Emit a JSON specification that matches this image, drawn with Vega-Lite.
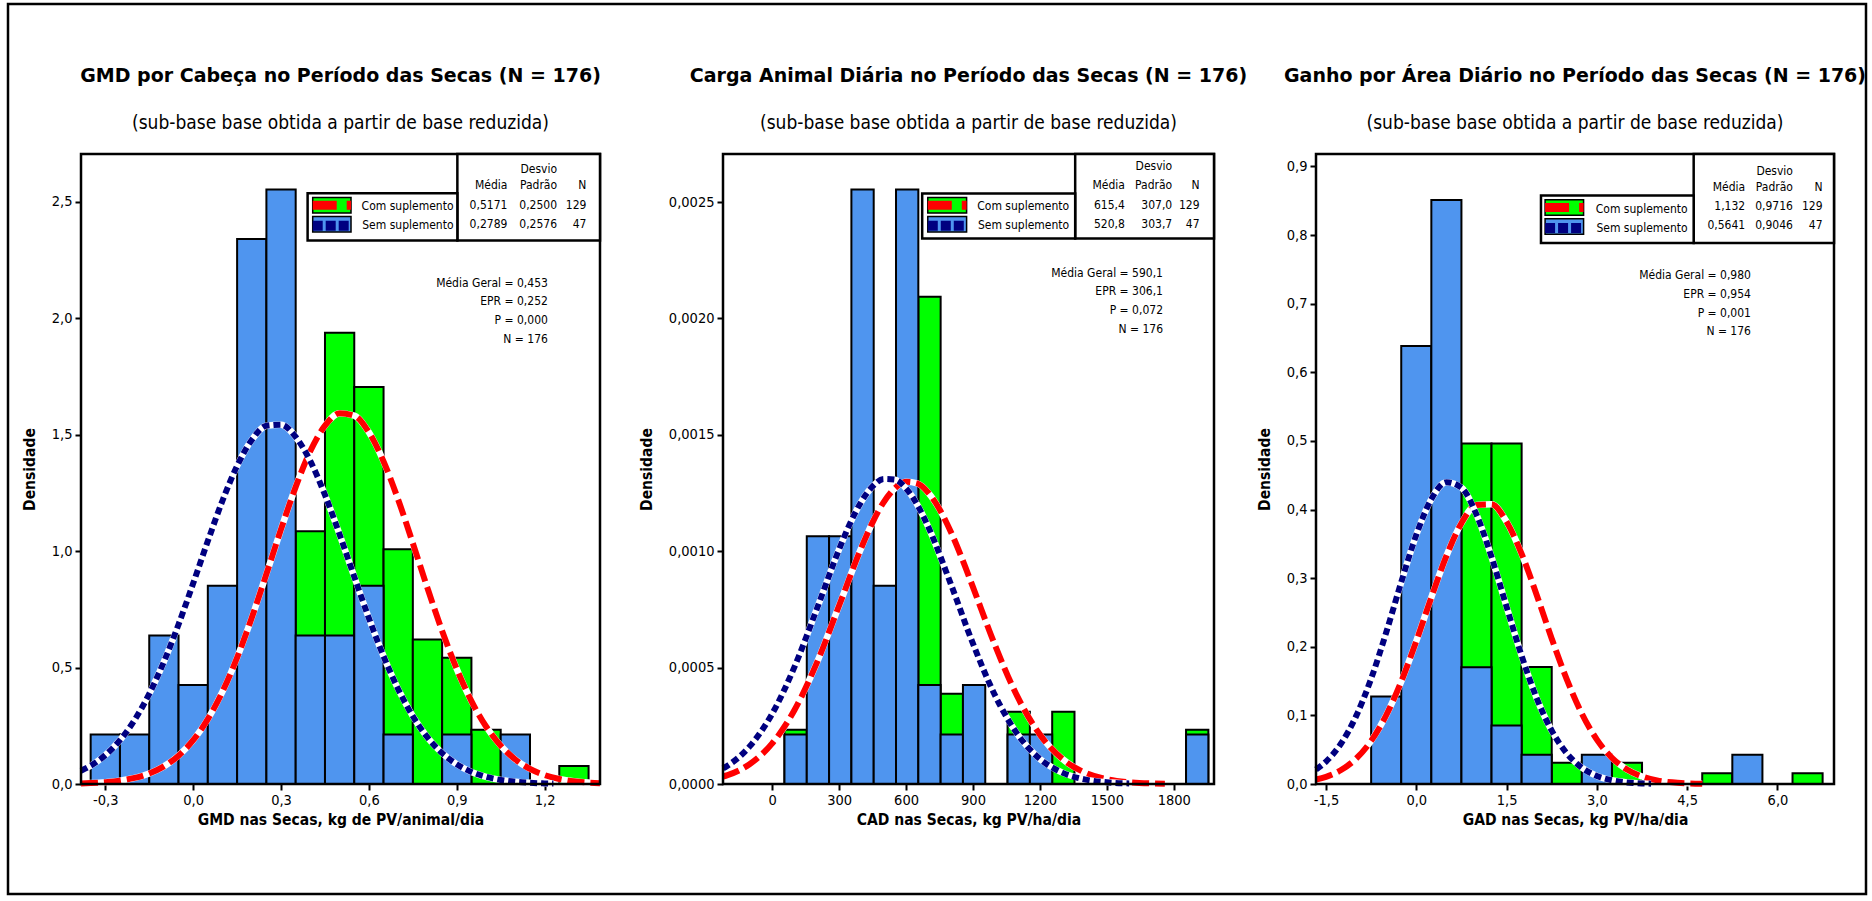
{
  "$schema": "https://vega.github.io/schema/vega-lite/v6.json",
  "width": 1858,
  "height": 890,
  "autosize": {"type": "none"},
  "padding": {"left": 8, "top": 4, "right": 6, "bottom": 7},
  "background": "white",
  "config": {
    "view": {"stroke": "black", "strokeWidth": 2.5},
    "font": "DejaVu Sans Condensed",
    "axis": {
      "labelFont": "DejaVu Sans Condensed", "labelFontSize": 14.5, "labelColor": "black",
      "titleFont": "DejaVu Sans Condensed", "titleFontSize": 15.5, "titleFontWeight": "bold", "titleColor": "black",
      "tickColor": "black", "tickSize": 6, "tickWidth": 2, "domain": false, "grid": false,
      "labelPadding": 3, "labelFlush": false, "labelOverlap": false
    },
    "axisX": {"titlePadding": 6},
    "axisY": {"titlePadding": 14},
    "text": {"font": "DejaVu Sans Condensed", "fontSize": 12, "color": "black"}
  },
  "datasets": {
    "bars": [
      {"p": "gmd", "g": "Com suplemento", "a": 0.35, "b": 0.45, "d": 1.0853},
      {"p": "gmd", "g": "Com suplemento", "a": 0.45, "b": 0.55, "d": 1.938},
      {"p": "gmd", "g": "Com suplemento", "a": 0.55, "b": 0.65, "d": 1.7054},
      {"p": "gmd", "g": "Com suplemento", "a": 0.65, "b": 0.75, "d": 1.0078},
      {"p": "gmd", "g": "Com suplemento", "a": 0.75, "b": 0.85, "d": 0.6202},
      {"p": "gmd", "g": "Com suplemento", "a": 0.85, "b": 0.95, "d": 0.5426},
      {"p": "gmd", "g": "Com suplemento", "a": 0.95, "b": 1.05, "d": 0.2326},
      {"p": "gmd", "g": "Com suplemento", "a": 1.25, "b": 1.35, "d": 0.0775},
      {"p": "gmd", "g": "Sem suplemento", "a": -0.35, "b": -0.25, "d": 0.2128},
      {"p": "gmd", "g": "Sem suplemento", "a": -0.25, "b": -0.15, "d": 0.2128},
      {"p": "gmd", "g": "Sem suplemento", "a": -0.15, "b": -0.05, "d": 0.6383},
      {"p": "gmd", "g": "Sem suplemento", "a": -0.05, "b": 0.05, "d": 0.4255},
      {"p": "gmd", "g": "Sem suplemento", "a": 0.05, "b": 0.15, "d": 0.8511},
      {"p": "gmd", "g": "Sem suplemento", "a": 0.15, "b": 0.25, "d": 2.3404},
      {"p": "gmd", "g": "Sem suplemento", "a": 0.25, "b": 0.35, "d": 2.5532},
      {"p": "gmd", "g": "Sem suplemento", "a": 0.35, "b": 0.45, "d": 0.6383},
      {"p": "gmd", "g": "Sem suplemento", "a": 0.45, "b": 0.55, "d": 0.6383},
      {"p": "gmd", "g": "Sem suplemento", "a": 0.55, "b": 0.65, "d": 0.8511},
      {"p": "gmd", "g": "Sem suplemento", "a": 0.65, "b": 0.75, "d": 0.2128},
      {"p": "gmd", "g": "Sem suplemento", "a": 0.85, "b": 0.95, "d": 0.2128},
      {"p": "gmd", "g": "Sem suplemento", "a": 1.05, "b": 1.15, "d": 0.2128},

      {"p": "cad", "g": "Com suplemento", "a": 55, "b": 155, "d": 0.00023256},
      {"p": "cad", "g": "Com suplemento", "a": 655, "b": 755, "d": 0.002093},
      {"p": "cad", "g": "Com suplemento", "a": 755, "b": 855, "d": 0.0003876},
      {"p": "cad", "g": "Com suplemento", "a": 1055, "b": 1155, "d": 0.00031008},
      {"p": "cad", "g": "Com suplemento", "a": 1255, "b": 1355, "d": 0.00031008},
      {"p": "cad", "g": "Com suplemento", "a": 1855, "b": 1955, "d": 0.00023256},
      {"p": "cad", "g": "Sem suplemento", "a": 55, "b": 155, "d": 0.00021277},
      {"p": "cad", "g": "Sem suplemento", "a": 155, "b": 255, "d": 0.0010638},
      {"p": "cad", "g": "Sem suplemento", "a": 255, "b": 355, "d": 0.0010638},
      {"p": "cad", "g": "Sem suplemento", "a": 355, "b": 455, "d": 0.0025532},
      {"p": "cad", "g": "Sem suplemento", "a": 455, "b": 555, "d": 0.00085106},
      {"p": "cad", "g": "Sem suplemento", "a": 555, "b": 655, "d": 0.0025532},
      {"p": "cad", "g": "Sem suplemento", "a": 655, "b": 755, "d": 0.00042553},
      {"p": "cad", "g": "Sem suplemento", "a": 755, "b": 855, "d": 0.00021277},
      {"p": "cad", "g": "Sem suplemento", "a": 855, "b": 955, "d": 0.00042553},
      {"p": "cad", "g": "Sem suplemento", "a": 1055, "b": 1155, "d": 0.00021277},
      {"p": "cad", "g": "Sem suplemento", "a": 1155, "b": 1255, "d": 0.00021277},
      {"p": "cad", "g": "Sem suplemento", "a": 1855, "b": 1955, "d": 0.00021277},

      {"p": "gad", "g": "Com suplemento", "a": 0.75, "b": 1.25, "d": 0.49612},
      {"p": "gad", "g": "Com suplemento", "a": 1.25, "b": 1.75, "d": 0.49612},
      {"p": "gad", "g": "Com suplemento", "a": 1.75, "b": 2.25, "d": 0.17054},
      {"p": "gad", "g": "Com suplemento", "a": 2.25, "b": 2.75, "d": 0.031008},
      {"p": "gad", "g": "Com suplemento", "a": 3.25, "b": 3.75, "d": 0.031008},
      {"p": "gad", "g": "Com suplemento", "a": 4.75, "b": 5.25, "d": 0.015504},
      {"p": "gad", "g": "Com suplemento", "a": 6.25, "b": 6.75, "d": 0.015504},
      {"p": "gad", "g": "Sem suplemento", "a": -0.75, "b": -0.25, "d": 0.12766},
      {"p": "gad", "g": "Sem suplemento", "a": -0.25, "b": 0.25, "d": 0.6383},
      {"p": "gad", "g": "Sem suplemento", "a": 0.25, "b": 0.75, "d": 0.85106},
      {"p": "gad", "g": "Sem suplemento", "a": 0.75, "b": 1.25, "d": 0.17021},
      {"p": "gad", "g": "Sem suplemento", "a": 1.25, "b": 1.75, "d": 0.085106},
      {"p": "gad", "g": "Sem suplemento", "a": 1.75, "b": 2.25, "d": 0.042553},
      {"p": "gad", "g": "Sem suplemento", "a": 2.75, "b": 3.25, "d": 0.042553},
      {"p": "gad", "g": "Sem suplemento", "a": 5.25, "b": 5.75, "d": 0.042553}
    ],
    "curves": [
      {"p": "gmd", "g": "Com suplemento", "x": -0.383, "d": 0.0024},
      {"p": "gmd", "g": "Com suplemento", "x": -0.35, "d": 0.0039},
      {"p": "gmd", "g": "Com suplemento", "x": -0.3, "d": 0.0076},
      {"p": "gmd", "g": "Com suplemento", "x": -0.25, "d": 0.0144},
      {"p": "gmd", "g": "Com suplemento", "x": -0.2, "d": 0.0261},
      {"p": "gmd", "g": "Com suplemento", "x": -0.15, "d": 0.0454},
      {"p": "gmd", "g": "Com suplemento", "x": -0.1, "d": 0.0758},
      {"p": "gmd", "g": "Com suplemento", "x": -0.05, "d": 0.1218},
      {"p": "gmd", "g": "Com suplemento", "x": 0, "d": 0.188},
      {"p": "gmd", "g": "Com suplemento", "x": 0.05, "d": 0.2785},
      {"p": "gmd", "g": "Com suplemento", "x": 0.1, "d": 0.3967},
      {"p": "gmd", "g": "Com suplemento", "x": 0.15, "d": 0.5429},
      {"p": "gmd", "g": "Com suplemento", "x": 0.2, "d": 0.714},
      {"p": "gmd", "g": "Com suplemento", "x": 0.25, "d": 0.9018},
      {"p": "gmd", "g": "Com suplemento", "x": 0.3, "d": 1.0946},
      {"p": "gmd", "g": "Com suplemento", "x": 0.35, "d": 1.2763},
      {"p": "gmd", "g": "Com suplemento", "x": 0.4, "d": 1.43},
      {"p": "gmd", "g": "Com suplemento", "x": 0.45, "d": 1.5393},
      {"p": "gmd", "g": "Com suplemento", "x": 0.5, "d": 1.5921},
      {"p": "gmd", "g": "Com suplemento", "x": 0.55, "d": 1.582},
      {"p": "gmd", "g": "Com suplemento", "x": 0.6, "d": 1.5104},
      {"p": "gmd", "g": "Com suplemento", "x": 0.65, "d": 1.3855},
      {"p": "gmd", "g": "Com suplemento", "x": 0.7, "d": 1.2211},
      {"p": "gmd", "g": "Com suplemento", "x": 0.75, "d": 1.0341},
      {"p": "gmd", "g": "Com suplemento", "x": 0.8, "d": 0.8413},
      {"p": "gmd", "g": "Com suplemento", "x": 0.85, "d": 0.6576},
      {"p": "gmd", "g": "Com suplemento", "x": 0.9, "d": 0.4939},
      {"p": "gmd", "g": "Com suplemento", "x": 0.95, "d": 0.3563},
      {"p": "gmd", "g": "Com suplemento", "x": 1, "d": 0.247},
      {"p": "gmd", "g": "Com suplemento", "x": 1.05, "d": 0.1645},
      {"p": "gmd", "g": "Com suplemento", "x": 1.1, "d": 0.1053},
      {"p": "gmd", "g": "Com suplemento", "x": 1.15, "d": 0.0647},
      {"p": "gmd", "g": "Com suplemento", "x": 1.2, "d": 0.0383},
      {"p": "gmd", "g": "Com suplemento", "x": 1.25, "d": 0.0217},
      {"p": "gmd", "g": "Com suplemento", "x": 1.3, "d": 0.0118},
      {"p": "gmd", "g": "Com suplemento", "x": 1.35, "d": 0.0062},
      {"p": "gmd", "g": "Com suplemento", "x": 1.389, "d": 0.0036},

      {"p": "gmd", "g": "Sem suplemento", "x": -0.383, "d": 0.057},
      {"p": "gmd", "g": "Sem suplemento", "x": -0.35, "d": 0.0786},
      {"p": "gmd", "g": "Sem suplemento", "x": -0.3, "d": 0.124},
      {"p": "gmd", "g": "Sem suplemento", "x": -0.25, "d": 0.1882},
      {"p": "gmd", "g": "Sem suplemento", "x": -0.2, "d": 0.275},
      {"p": "gmd", "g": "Sem suplemento", "x": -0.15, "d": 0.3873},
      {"p": "gmd", "g": "Sem suplemento", "x": -0.1, "d": 0.525},
      {"p": "gmd", "g": "Sem suplemento", "x": -0.05, "d": 0.6854},
      {"p": "gmd", "g": "Sem suplemento", "x": 0, "d": 0.8618},
      {"p": "gmd", "g": "Sem suplemento", "x": 0.05, "d": 1.0435},
      {"p": "gmd", "g": "Sem suplemento", "x": 0.1, "d": 1.2168},
      {"p": "gmd", "g": "Sem suplemento", "x": 0.15, "d": 1.3664},
      {"p": "gmd", "g": "Sem suplemento", "x": 0.2, "d": 1.4778},
      {"p": "gmd", "g": "Sem suplemento", "x": 0.25, "d": 1.539},
      {"p": "gmd", "g": "Sem suplemento", "x": 0.3, "d": 1.5435},
      {"p": "gmd", "g": "Sem suplemento", "x": 0.35, "d": 1.4908},
      {"p": "gmd", "g": "Sem suplemento", "x": 0.4, "d": 1.3867},
      {"p": "gmd", "g": "Sem suplemento", "x": 0.45, "d": 1.242},
      {"p": "gmd", "g": "Sem suplemento", "x": 0.5, "d": 1.0714},
      {"p": "gmd", "g": "Sem suplemento", "x": 0.55, "d": 0.8902},
      {"p": "gmd", "g": "Sem suplemento", "x": 0.6, "d": 0.7121},
      {"p": "gmd", "g": "Sem suplemento", "x": 0.65, "d": 0.5487},
      {"p": "gmd", "g": "Sem suplemento", "x": 0.7, "d": 0.4072},
      {"p": "gmd", "g": "Sem suplemento", "x": 0.75, "d": 0.2909},
      {"p": "gmd", "g": "Sem suplemento", "x": 0.8, "d": 0.2001},
      {"p": "gmd", "g": "Sem suplemento", "x": 0.85, "d": 0.1326},
      {"p": "gmd", "g": "Sem suplemento", "x": 0.9, "d": 0.0846},
      {"p": "gmd", "g": "Sem suplemento", "x": 0.95, "d": 0.052},
      {"p": "gmd", "g": "Sem suplemento", "x": 1, "d": 0.0308},
      {"p": "gmd", "g": "Sem suplemento", "x": 1.05, "d": 0.0175},
      {"p": "gmd", "g": "Sem suplemento", "x": 1.1, "d": 0.0096},
      {"p": "gmd", "g": "Sem suplemento", "x": 1.15, "d": 0.0051},
      {"p": "gmd", "g": "Sem suplemento", "x": 1.2, "d": 0.0026},
      {"p": "gmd", "g": "Sem suplemento", "x": 1.23, "d": 0.0017},

      {"p": "cad", "g": "Com suplemento", "x": -220, "d": 0.00003206},
      {"p": "cad", "g": "Com suplemento", "x": -200, "d": 0.00003818},
      {"p": "cad", "g": "Com suplemento", "x": -100, "d": 0.00008603},
      {"p": "cad", "g": "Com suplemento", "x": 0, "d": 0.00017426},
      {"p": "cad", "g": "Com suplemento", "x": 100, "d": 0.0003176},
      {"p": "cad", "g": "Com suplemento", "x": 200, "d": 0.0005202},
      {"p": "cad", "g": "Com suplemento", "x": 300, "d": 0.0007666},
      {"p": "cad", "g": "Com suplemento", "x": 400, "d": 0.001016},
      {"p": "cad", "g": "Com suplemento", "x": 450, "d": 0.0011239},
      {"p": "cad", "g": "Com suplemento", "x": 500, "d": 0.0012109},
      {"p": "cad", "g": "Com suplemento", "x": 550, "d": 0.0012704},
      {"p": "cad", "g": "Com suplemento", "x": 600, "d": 0.0012979},
      {"p": "cad", "g": "Com suplemento", "x": 650, "d": 0.0012913},
      {"p": "cad", "g": "Com suplemento", "x": 700, "d": 0.001251},
      {"p": "cad", "g": "Com suplemento", "x": 750, "d": 0.0011804},
      {"p": "cad", "g": "Com suplemento", "x": 800, "d": 0.0010846},
      {"p": "cad", "g": "Com suplemento", "x": 850, "d": 0.0009705},
      {"p": "cad", "g": "Com suplemento", "x": 900, "d": 0.0008456},
      {"p": "cad", "g": "Com suplemento", "x": 1000, "d": 0.000593},
      {"p": "cad", "g": "Com suplemento", "x": 1100, "d": 0.0003739},
      {"p": "cad", "g": "Com suplemento", "x": 1200, "d": 0.0002121},
      {"p": "cad", "g": "Com suplemento", "x": 1300, "d": 0.0001081},
      {"p": "cad", "g": "Com suplemento", "x": 1400, "d": 0.00004958},
      {"p": "cad", "g": "Com suplemento", "x": 1500, "d": 0.00002045},
      {"p": "cad", "g": "Com suplemento", "x": 1600, "d": 0.00000759},
      {"p": "cad", "g": "Com suplemento", "x": 1700, "d": 0.00000253},
      {"p": "cad", "g": "Com suplemento", "x": 1760, "d": 0.00000125},

      {"p": "cad", "g": "Sem suplemento", "x": -220, "d": 0.00006706},
      {"p": "cad", "g": "Sem suplemento", "x": -200, "d": 0.00007857},
      {"p": "cad", "g": "Sem suplemento", "x": -100, "d": 0.00016262},
      {"p": "cad", "g": "Sem suplemento", "x": 0, "d": 0.0003019},
      {"p": "cad", "g": "Sem suplemento", "x": 100, "d": 0.000503},
      {"p": "cad", "g": "Sem suplemento", "x": 200, "d": 0.0007519},
      {"p": "cad", "g": "Sem suplemento", "x": 300, "d": 0.0010085},
      {"p": "cad", "g": "Sem suplemento", "x": 350, "d": 0.0011214},
      {"p": "cad", "g": "Sem suplemento", "x": 400, "d": 0.0012136},
      {"p": "cad", "g": "Sem suplemento", "x": 450, "d": 0.0012784},
      {"p": "cad", "g": "Sem suplemento", "x": 500, "d": 0.0013105},
      {"p": "cad", "g": "Sem suplemento", "x": 550, "d": 0.0013075},
      {"p": "cad", "g": "Sem suplemento", "x": 600, "d": 0.0012697},
      {"p": "cad", "g": "Sem suplemento", "x": 650, "d": 0.0012},
      {"p": "cad", "g": "Sem suplemento", "x": 700, "d": 0.0011037},
      {"p": "cad", "g": "Sem suplemento", "x": 800, "d": 0.0008608},
      {"p": "cad", "g": "Sem suplemento", "x": 900, "d": 0.0006026},
      {"p": "cad", "g": "Sem suplemento", "x": 1000, "d": 0.0003783},
      {"p": "cad", "g": "Sem suplemento", "x": 1100, "d": 0.0002131},
      {"p": "cad", "g": "Sem suplemento", "x": 1200, "d": 0.0001077},
      {"p": "cad", "g": "Sem suplemento", "x": 1300, "d": 0.00004885},
      {"p": "cad", "g": "Sem suplemento", "x": 1400, "d": 0.00001989},
      {"p": "cad", "g": "Sem suplemento", "x": 1500, "d": 0.00000726},
      {"p": "cad", "g": "Sem suplemento", "x": 1600, "d": 0.00000238},

      {"p": "gad", "g": "Com suplemento", "x": -1.666, "d": 0.0065},
      {"p": "gad", "g": "Com suplemento", "x": -1.5, "d": 0.01047},
      {"p": "gad", "g": "Com suplemento", "x": -1.25, "d": 0.02034},
      {"p": "gad", "g": "Com suplemento", "x": -1, "d": 0.03697},
      {"p": "gad", "g": "Com suplemento", "x": -0.75, "d": 0.0629},
      {"p": "gad", "g": "Com suplemento", "x": -0.5, "d": 0.1002},
      {"p": "gad", "g": "Com suplemento", "x": -0.25, "d": 0.1493},
      {"p": "gad", "g": "Com suplemento", "x": 0, "d": 0.2083},
      {"p": "gad", "g": "Com suplemento", "x": 0.25, "d": 0.272},
      {"p": "gad", "g": "Com suplemento", "x": 0.5, "d": 0.3323},
      {"p": "gad", "g": "Com suplemento", "x": 0.75, "d": 0.3801},
      {"p": "gad", "g": "Com suplemento", "x": 1, "d": 0.4068},
      {"p": "gad", "g": "Com suplemento", "x": 1.25, "d": 0.4076},
      {"p": "gad", "g": "Com suplemento", "x": 1.5, "d": 0.3822},
      {"p": "gad", "g": "Com suplemento", "x": 1.75, "d": 0.3354},
      {"p": "gad", "g": "Com suplemento", "x": 2, "d": 0.2755},
      {"p": "gad", "g": "Com suplemento", "x": 2.25, "d": 0.2118},
      {"p": "gad", "g": "Com suplemento", "x": 2.5, "d": 0.1524},
      {"p": "gad", "g": "Com suplemento", "x": 2.75, "d": 0.1026},
      {"p": "gad", "g": "Com suplemento", "x": 3, "d": 0.0647},
      {"p": "gad", "g": "Com suplemento", "x": 3.25, "d": 0.0382},
      {"p": "gad", "g": "Com suplemento", "x": 3.5, "d": 0.0211},
      {"p": "gad", "g": "Com suplemento", "x": 3.75, "d": 0.0109},
      {"p": "gad", "g": "Com suplemento", "x": 4, "d": 0.0053},
      {"p": "gad", "g": "Com suplemento", "x": 4.25, "d": 0.0024},
      {"p": "gad", "g": "Com suplemento", "x": 4.5, "d": 0.001},
      {"p": "gad", "g": "Com suplemento", "x": 4.75, "d": 0.0004},

      {"p": "gad", "g": "Sem suplemento", "x": -1.666, "d": 0.02112},
      {"p": "gad", "g": "Sem suplemento", "x": -1.5, "d": 0.03265},
      {"p": "gad", "g": "Sem suplemento", "x": -1.25, "d": 0.05905},
      {"p": "gad", "g": "Sem suplemento", "x": -1, "d": 0.09891},
      {"p": "gad", "g": "Sem suplemento", "x": -0.75, "d": 0.1535},
      {"p": "gad", "g": "Sem suplemento", "x": -0.5, "d": 0.2208},
      {"p": "gad", "g": "Sem suplemento", "x": -0.25, "d": 0.2941},
      {"p": "gad", "g": "Sem suplemento", "x": 0, "d": 0.3631},
      {"p": "gad", "g": "Sem suplemento", "x": 0.25, "d": 0.4152},
      {"p": "gad", "g": "Sem suplemento", "x": 0.5, "d": 0.4399},
      {"p": "gad", "g": "Sem suplemento", "x": 0.75, "d": 0.4318},
      {"p": "gad", "g": "Sem suplemento", "x": 1, "d": 0.3927},
      {"p": "gad", "g": "Sem suplemento", "x": 1.25, "d": 0.3308},
      {"p": "gad", "g": "Sem suplemento", "x": 1.5, "d": 0.2583},
      {"p": "gad", "g": "Sem suplemento", "x": 1.75, "d": 0.1868},
      {"p": "gad", "g": "Sem suplemento", "x": 2, "d": 0.1251},
      {"p": "gad", "g": "Sem suplemento", "x": 2.25, "d": 0.0777},
      {"p": "gad", "g": "Sem suplemento", "x": 2.5, "d": 0.0447},
      {"p": "gad", "g": "Sem suplemento", "x": 2.75, "d": 0.0238},
      {"p": "gad", "g": "Sem suplemento", "x": 3, "d": 0.0117},
      {"p": "gad", "g": "Sem suplemento", "x": 3.25, "d": 0.0054},
      {"p": "gad", "g": "Sem suplemento", "x": 3.5, "d": 0.0023},
      {"p": "gad", "g": "Sem suplemento", "x": 3.75, "d": 0.0009},
      {"p": "gad", "g": "Sem suplemento", "x": 3.9, "d": 0.0005}
    ]
  },
  "layer": [
    {
      "layer": [
        {
          "data": {"name": "bars"},
          "transform": [{"filter": "datum.p === 'gmd'"}],
          "mark": {"type": "rect", "stroke": "black", "strokeWidth": 2},
          "encoding": {
            "x": {"field": "a", "type": "quantitative",
              "scale": {"domain": [-0.383, 1.389], "range": [73, 592], "nice": false, "zero": false},
              "axis": {"orient": "bottom", "offset": -110, "values": [-0.3, 0, 0.3, 0.6, 0.9, 1.2],
                "labelExpr": "replace(replace(format(datum.value, '.1f'), '.', ','), '−', '-')",
                "title": "GMD nas Secas, kg de PV/animal/dia"}},
            "x2": {"field": "b"},
            "y": {"field": "d", "type": "quantitative",
              "scale": {"domain": [0, 2.706], "range": [780, 150], "nice": false, "zero": false},
              "axis": {"orient": "left", "offset": -73, "values": [0, 0.5, 1, 1.5, 2, 2.5],
                "labelExpr": "replace(format(datum.value, '.1f'), '.', ',')", "title": "Densidade"}},
            "y2": {"datum": 0},
            "fill": {"field": "g", "type": "nominal",
              "scale": {"domain": ["Com suplemento", "Sem suplemento"], "range": ["#00FF00", "#4F95EF"]}, "legend": null}
          }
        },
        {
          "data": {"name": "curves"},
          "transform": [{"filter": "datum.p === 'gmd' && datum.g === 'Com suplemento'"}],
          "mark": {"type": "line", "stroke": "white", "strokeWidth": 6.5, "interpolate": "monotone"},
          "encoding": {"x": {"field": "x", "type": "quantitative"}, "y": {"field": "d", "type": "quantitative"}}
        },
        {
          "data": {"name": "curves"},
          "transform": [{"filter": "datum.p === 'gmd' && datum.g === 'Com suplemento'"}],
          "mark": {"type": "line", "stroke": "#FF0000", "strokeWidth": 6, "strokeDash": [17, 6], "strokeCap": "butt", "interpolate": "monotone"},
          "encoding": {"x": {"field": "x", "type": "quantitative"}, "y": {"field": "d", "type": "quantitative"}}
        },
        {
          "data": {"name": "curves"},
          "transform": [{"filter": "datum.p === 'gmd' && datum.g === 'Sem suplemento'"}],
          "mark": {"type": "line", "stroke": "white", "strokeWidth": 6.5, "interpolate": "monotone"},
          "encoding": {"x": {"field": "x", "type": "quantitative"}, "y": {"field": "d", "type": "quantitative"}}
        },
        {
          "data": {"name": "curves"},
          "transform": [{"filter": "datum.p === 'gmd' && datum.g === 'Sem suplemento'"}],
          "mark": {"type": "line", "stroke": "#000080", "strokeWidth": 6, "strokeDash": [7, 4], "strokeCap": "butt", "interpolate": "monotone"},
          "encoding": {"x": {"field": "x", "type": "quantitative"}, "y": {"field": "d", "type": "quantitative"}}
        },
        {
          "data": {"values": [{}]},
          "mark": {"type": "rect", "fillOpacity": 0, "stroke": "black", "strokeWidth": 2.5},
          "encoding": {"x": {"datum": -0.383, "type": "quantitative"}, "x2": {"datum": 1.389},
            "y": {"datum": 0, "type": "quantitative"}, "y2": {"datum": 2.706}}
        },
        {
          "data": {"values": [{}]},
          "mark": {"type": "rect", "fill": "white", "stroke": "black", "strokeWidth": 2.5},
          "encoding": {"x": {"datum": 0.902, "type": "quantitative"}, "x2": {"datum": 1.389},
            "y": {"datum": 2.3346, "type": "quantitative"}, "y2": {"datum": 2.706}}
        },
        {
          "data": {"values": [{}]},
          "mark": {"type": "rect", "fill": "white", "stroke": "black", "strokeWidth": 2.5},
          "encoding": {"x": {"datum": 0.3907, "type": "quantitative"}, "x2": {"datum": 0.902},
            "y": {"datum": 2.3346, "type": "quantitative"}, "y2": {"datum": 2.5369}}
        },
        {
          "data": {"values": [{}]},
          "mark": {"type": "rect", "fill": "#00FF00", "stroke": "black", "strokeWidth": 1.5},
          "encoding": {"x": {"datum": 0.4081, "type": "quantitative"}, "x2": {"datum": 0.5389},
            "y": {"datum": 2.4523, "type": "quantitative"}, "y2": {"datum": 2.5189}}
        },
        {
          "data": {"values": [{}]},
          "mark": {"type": "rule", "stroke": "#FF0000", "strokeWidth": 9, "strokeDash": [24, 10], "strokeCap": "butt"},
          "encoding": {"x": {"datum": 0.4081, "type": "quantitative"}, "x2": {"datum": 0.5389},
            "y": {"datum": 2.4856, "type": "quantitative"}}
        },
        {
          "data": {"values": [{}]},
          "mark": {"type": "rect", "fill": "#4F95EF", "stroke": "black", "strokeWidth": 1.5},
          "encoding": {"x": {"datum": 0.4081, "type": "quantitative"}, "x2": {"datum": 0.5389},
            "y": {"datum": 2.3707, "type": "quantitative"}, "y2": {"datum": 2.4377}}
        },
        {
          "data": {"values": [{}]},
          "mark": {"type": "rule", "stroke": "#000080", "strokeWidth": 10, "strokeDash": [10, 3], "strokeCap": "butt"},
          "encoding": {"x": {"datum": 0.4081, "type": "quantitative"}, "x2": {"datum": 0.5389},
            "y": {"datum": 2.3978, "type": "quantitative"}}
        },
        {
          "data": {"values": [{}]},
          "mark": {"type": "text", "text": ["Com suplemento", "Sem suplemento"], "align": "right", "baseline": "top", "lineHeight": 19.8},
          "encoding": {"x": {"datum": 0.8888, "type": "quantitative"}, "y": {"datum": 2.506, "type": "quantitative"}}
        },
        {
          "data": {"values": [{}]},
          "mark": {"type": "text", "text": "Desvio", "align": "right", "baseline": "top"},
          "encoding": {"x": {"datum": 1.2425, "type": "quantitative"}, "y": {"datum": 2.6615, "type": "quantitative"}}
        },
        {
          "data": {"values": [{}]},
          "mark": {"type": "text", "text": ["Média", "0,5171", "0,2789"], "align": "right", "baseline": "top", "lineHeight": 19.2},
          "encoding": {"x": {"datum": 1.0728, "type": "quantitative"}, "y": {"datum": 2.5928, "type": "quantitative"}}
        },
        {
          "data": {"values": [{}]},
          "mark": {"type": "text", "text": ["Padrão", "0,2500", "0,2576"], "align": "right", "baseline": "top", "lineHeight": 19.2},
          "encoding": {"x": {"datum": 1.2425, "type": "quantitative"}, "y": {"datum": 2.5928, "type": "quantitative"}}
        },
        {
          "data": {"values": [{}]},
          "mark": {"type": "text", "text": ["N", "129", "47"], "align": "right", "baseline": "top", "lineHeight": 19.2},
          "encoding": {"x": {"datum": 1.3425, "type": "quantitative"}, "y": {"datum": 2.5928, "type": "quantitative"}}
        },
        {
          "data": {"values": [{}]},
          "mark": {"type": "text", "text": ["Média Geral = 0,453", "EPR = 0,252", "P = 0,000", "N  = 176"], "align": "right", "baseline": "top", "lineHeight": 18.8},
          "encoding": {"x": {"datum": 1.2111, "type": "quantitative"}, "y": {"datum": 2.1753, "type": "quantitative"}}
        },
        {
          "data": {"values": [{}]},
          "mark": {"type": "text", "text": "GMD por Cabeça no Período das Secas (N = 176)", "font": "DejaVu Sans", "fontWeight": "bold", "fontSize": 19, "align": "center", "baseline": "middle"},
          "encoding": {"x": {"datum": 0.503, "type": "quantitative"}, "y": {"datum": 3.041, "type": "quantitative"}}
        },
        {
          "data": {"values": [{}]},
          "mark": {"type": "text", "text": "(sub-base base obtida a partir de base reduzida)", "fontSize": 19, "align": "center", "baseline": "middle"},
          "encoding": {"x": {"datum": 0.503, "type": "quantitative"}, "y": {"datum": 2.839, "type": "quantitative"}}
        }
      ]
    },
    {
      "layer": [
        {
          "data": {"name": "bars"},
          "transform": [{"filter": "datum.p === 'cad'"}],
          "mark": {"type": "rect", "stroke": "black", "strokeWidth": 2},
          "encoding": {
            "x": {"field": "a", "type": "quantitative",
              "scale": {"domain": [-220.5, 1980.3], "range": [715, 1206], "nice": false, "zero": false},
              "axis": {"orient": "bottom", "offset": -110, "values": [0, 300, 600, 900, 1200, 1500, 1800],
                "labelExpr": "format(datum.value, 'd')", "title": "CAD nas Secas, kg PV/ha/dia"}},
            "x2": {"field": "b"},
            "y": {"field": "d", "type": "quantitative",
              "scale": {"domain": [0, 0.0027062], "range": [780, 150], "nice": false, "zero": false},
              "axis": {"orient": "left", "offset": -715, "values": [0, 0.0005, 0.001, 0.0015, 0.002, 0.0025],
                "labelExpr": "replace(format(datum.value, '.4f'), '.', ',')", "title": "Densidade"}},
            "y2": {"datum": 0},
            "fill": {"field": "g", "type": "nominal",
              "scale": {"domain": ["Com suplemento", "Sem suplemento"], "range": ["#00FF00", "#4F95EF"]}, "legend": null}
          }
        },
        {
          "data": {"name": "curves"},
          "transform": [{"filter": "datum.p === 'cad' && datum.g === 'Com suplemento'"}],
          "mark": {"type": "line", "stroke": "white", "strokeWidth": 6.5, "interpolate": "monotone"},
          "encoding": {"x": {"field": "x", "type": "quantitative"}, "y": {"field": "d", "type": "quantitative"}}
        },
        {
          "data": {"name": "curves"},
          "transform": [{"filter": "datum.p === 'cad' && datum.g === 'Com suplemento'"}],
          "mark": {"type": "line", "stroke": "#FF0000", "strokeWidth": 6, "strokeDash": [17, 6], "strokeCap": "butt", "interpolate": "monotone"},
          "encoding": {"x": {"field": "x", "type": "quantitative"}, "y": {"field": "d", "type": "quantitative"}}
        },
        {
          "data": {"name": "curves"},
          "transform": [{"filter": "datum.p === 'cad' && datum.g === 'Sem suplemento'"}],
          "mark": {"type": "line", "stroke": "white", "strokeWidth": 6.5, "interpolate": "monotone"},
          "encoding": {"x": {"field": "x", "type": "quantitative"}, "y": {"field": "d", "type": "quantitative"}}
        },
        {
          "data": {"name": "curves"},
          "transform": [{"filter": "datum.p === 'cad' && datum.g === 'Sem suplemento'"}],
          "mark": {"type": "line", "stroke": "#000080", "strokeWidth": 6, "strokeDash": [7, 4], "strokeCap": "butt", "interpolate": "monotone"},
          "encoding": {"x": {"field": "x", "type": "quantitative"}, "y": {"field": "d", "type": "quantitative"}}
        },
        {
          "data": {"values": [{}]},
          "mark": {"type": "rect", "fillOpacity": 0, "stroke": "black", "strokeWidth": 2.5},
          "encoding": {"x": {"datum": -220.5, "type": "quantitative"}, "x2": {"datum": 1980.3},
            "y": {"datum": 0, "type": "quantitative"}, "y2": {"datum": 0.0027062}}
        },
        {
          "data": {"values": [{}]},
          "mark": {"type": "rect", "fill": "white", "stroke": "black", "strokeWidth": 2.5},
          "encoding": {"x": {"datum": 1358.1, "type": "quantitative"}, "x2": {"datum": 1980.3},
            "y": {"datum": 0.0023436, "type": "quantitative"}, "y2": {"datum": 0.0027062}}
        },
        {
          "data": {"values": [{}]},
          "mark": {"type": "rect", "fill": "white", "stroke": "black", "strokeWidth": 2.5},
          "encoding": {"x": {"datum": 672.3, "type": "quantitative"}, "x2": {"datum": 1358.1},
            "y": {"datum": 0.0023436, "type": "quantitative"}, "y2": {"datum": 0.0025369}}
        },
        {
          "data": {"values": [{}]},
          "mark": {"type": "rect", "fill": "#00FF00", "stroke": "black", "strokeWidth": 1.5},
          "encoding": {"x": {"datum": 697.4, "type": "quantitative"}, "x2": {"datum": 871.4},
            "y": {"datum": 0.0024523, "type": "quantitative"}, "y2": {"datum": 0.0025189}}
        },
        {
          "data": {"values": [{}]},
          "mark": {"type": "rule", "stroke": "#FF0000", "strokeWidth": 9, "strokeDash": [24, 10], "strokeCap": "butt"},
          "encoding": {"x": {"datum": 697.4, "type": "quantitative"}, "x2": {"datum": 871.4},
            "y": {"datum": 0.0024856, "type": "quantitative"}}
        },
        {
          "data": {"values": [{}]},
          "mark": {"type": "rect", "fill": "#4F95EF", "stroke": "black", "strokeWidth": 1.5},
          "encoding": {"x": {"datum": 697.4, "type": "quantitative"}, "x2": {"datum": 871.4},
            "y": {"datum": 0.0023707, "type": "quantitative"}, "y2": {"datum": 0.0024377}}
        },
        {
          "data": {"values": [{}]},
          "mark": {"type": "rule", "stroke": "#000080", "strokeWidth": 10, "strokeDash": [10, 3], "strokeCap": "butt"},
          "encoding": {"x": {"datum": 697.4, "type": "quantitative"}, "x2": {"datum": 871.4},
            "y": {"datum": 0.0023978, "type": "quantitative"}}
        },
        {
          "data": {"values": [{}]},
          "mark": {"type": "text", "text": ["Com suplemento", "Sem suplemento"], "align": "right", "baseline": "top", "lineHeight": 19.8},
          "encoding": {"x": {"datum": 1331.2, "type": "quantitative"}, "y": {"datum": 0.002506, "type": "quantitative"}}
        },
        {
          "data": {"values": [{}]},
          "mark": {"type": "text", "text": "Desvio", "align": "right", "baseline": "top"},
          "encoding": {"x": {"datum": 1792.9, "type": "quantitative"}, "y": {"datum": 0.0026744, "type": "quantitative"}}
        },
        {
          "data": {"values": [{}]},
          "mark": {"type": "text", "text": ["Média", "615,4", "520,8"], "align": "right", "baseline": "top", "lineHeight": 19.2},
          "encoding": {"x": {"datum": 1580.9, "type": "quantitative"}, "y": {"datum": 0.0025928, "type": "quantitative"}}
        },
        {
          "data": {"values": [{}]},
          "mark": {"type": "text", "text": ["Padrão", "307,0", "303,7"], "align": "right", "baseline": "top", "lineHeight": 19.2},
          "encoding": {"x": {"datum": 1792.9, "type": "quantitative"}, "y": {"datum": 0.0025928, "type": "quantitative"}}
        },
        {
          "data": {"values": [{}]},
          "mark": {"type": "text", "text": ["N", "129", "47"], "align": "right", "baseline": "top", "lineHeight": 19.2},
          "encoding": {"x": {"datum": 1915.7, "type": "quantitative"}, "y": {"datum": 0.0025928, "type": "quantitative"}}
        },
        {
          "data": {"values": [{}]},
          "mark": {"type": "text", "text": ["Média Geral = 590,1", "EPR = 306,1", "P = 0,072", "N  = 176"], "align": "right", "baseline": "top", "lineHeight": 18.9},
          "encoding": {"x": {"datum": 1751.7, "type": "quantitative"}, "y": {"datum": 0.0022186, "type": "quantitative"}}
        },
        {
          "data": {"values": [{}]},
          "mark": {"type": "text", "text": "Carga Animal Diária no Período das Secas (N = 176)", "font": "DejaVu Sans", "fontWeight": "bold", "fontSize": 19, "align": "center", "baseline": "middle"},
          "encoding": {"x": {"datum": 879.9, "type": "quantitative"}, "y": {"datum": 0.0030412, "type": "quantitative"}}
        },
        {
          "data": {"values": [{}]},
          "mark": {"type": "text", "text": "(sub-base base obtida a partir de base reduzida)", "fontSize": 19, "align": "center", "baseline": "middle"},
          "encoding": {"x": {"datum": 879.9, "type": "quantitative"}, "y": {"datum": 0.0028393, "type": "quantitative"}}
        }
      ]
    },
    {
      "layer": [
        {
          "data": {"name": "bars"},
          "transform": [{"filter": "datum.p === 'gad'"}],
          "mark": {"type": "rect", "stroke": "black", "strokeWidth": 2},
          "encoding": {
            "x": {"field": "a", "type": "quantitative",
              "scale": {"domain": [-1.666, 6.939], "range": [1308, 1826], "nice": false, "zero": false},
              "axis": {"orient": "bottom", "offset": -110, "values": [-1.5, 0, 1.5, 3, 4.5, 6],
                "labelExpr": "replace(replace(format(datum.value, '.1f'), '.', ','), '−', '-')",
                "title": "GAD nas Secas, kg PV/ha/dia"}},
            "x2": {"field": "b"},
            "y": {"field": "d", "type": "quantitative",
              "scale": {"domain": [0, 0.9182], "range": [780, 150], "nice": false, "zero": false},
              "axis": {"orient": "left", "offset": -1308, "values": [0, 0.1, 0.2, 0.3, 0.4, 0.5, 0.6, 0.7, 0.8, 0.9],
                "labelExpr": "replace(format(datum.value, '.1f'), '.', ',')", "title": "Densidade"}},
            "y2": {"datum": 0},
            "fill": {"field": "g", "type": "nominal",
              "scale": {"domain": ["Com suplemento", "Sem suplemento"], "range": ["#00FF00", "#4F95EF"]}, "legend": null}
          }
        },
        {
          "data": {"name": "curves"},
          "transform": [{"filter": "datum.p === 'gad' && datum.g === 'Com suplemento'"}],
          "mark": {"type": "line", "stroke": "white", "strokeWidth": 6.5, "interpolate": "monotone"},
          "encoding": {"x": {"field": "x", "type": "quantitative"}, "y": {"field": "d", "type": "quantitative"}}
        },
        {
          "data": {"name": "curves"},
          "transform": [{"filter": "datum.p === 'gad' && datum.g === 'Com suplemento'"}],
          "mark": {"type": "line", "stroke": "#FF0000", "strokeWidth": 6, "strokeDash": [17, 6], "strokeCap": "butt", "interpolate": "monotone"},
          "encoding": {"x": {"field": "x", "type": "quantitative"}, "y": {"field": "d", "type": "quantitative"}}
        },
        {
          "data": {"name": "curves"},
          "transform": [{"filter": "datum.p === 'gad' && datum.g === 'Sem suplemento'"}],
          "mark": {"type": "line", "stroke": "white", "strokeWidth": 6.5, "interpolate": "monotone"},
          "encoding": {"x": {"field": "x", "type": "quantitative"}, "y": {"field": "d", "type": "quantitative"}}
        },
        {
          "data": {"name": "curves"},
          "transform": [{"filter": "datum.p === 'gad' && datum.g === 'Sem suplemento'"}],
          "mark": {"type": "line", "stroke": "#000080", "strokeWidth": 6, "strokeDash": [7, 4], "strokeCap": "butt", "interpolate": "monotone"},
          "encoding": {"x": {"field": "x", "type": "quantitative"}, "y": {"field": "d", "type": "quantitative"}}
        },
        {
          "data": {"values": [{}]},
          "mark": {"type": "rect", "fillOpacity": 0, "stroke": "black", "strokeWidth": 2.5},
          "encoding": {"x": {"datum": -1.666, "type": "quantitative"}, "x2": {"datum": 6.939},
            "y": {"datum": 0, "type": "quantitative"}, "y2": {"datum": 0.9182}}
        },
        {
          "data": {"values": [{}]},
          "mark": {"type": "rect", "fill": "white", "stroke": "black", "strokeWidth": 2.5},
          "encoding": {"x": {"datum": 4.608, "type": "quantitative"}, "x2": {"datum": 6.939},
            "y": {"datum": 0.7885, "type": "quantitative"}, "y2": {"datum": 0.9182}}
        },
        {
          "data": {"values": [{}]},
          "mark": {"type": "rect", "fill": "white", "stroke": "black", "strokeWidth": 2.5},
          "encoding": {"x": {"datum": 2.0714, "type": "quantitative"}, "x2": {"datum": 4.608},
            "y": {"datum": 0.7885, "type": "quantitative"}, "y2": {"datum": 0.8577}}
        },
        {
          "data": {"values": [{}]},
          "mark": {"type": "rect", "fill": "#00FF00", "stroke": "black", "strokeWidth": 1.5},
          "encoding": {"x": {"datum": 2.1395, "type": "quantitative"}, "x2": {"datum": 2.779},
            "y": {"datum": 0.8289, "type": "quantitative"}, "y2": {"datum": 0.8515}}
        },
        {
          "data": {"values": [{}]},
          "mark": {"type": "rule", "stroke": "#FF0000", "strokeWidth": 9, "strokeDash": [24, 10], "strokeCap": "butt"},
          "encoding": {"x": {"datum": 2.1395, "type": "quantitative"}, "x2": {"datum": 2.779},
            "y": {"datum": 0.8402, "type": "quantitative"}}
        },
        {
          "data": {"values": [{}]},
          "mark": {"type": "rect", "fill": "#4F95EF", "stroke": "black", "strokeWidth": 1.5},
          "encoding": {"x": {"datum": 2.1395, "type": "quantitative"}, "x2": {"datum": 2.779},
            "y": {"datum": 0.8012, "type": "quantitative"}, "y2": {"datum": 0.8239}}
        },
        {
          "data": {"values": [{}]},
          "mark": {"type": "rule", "stroke": "#000080", "strokeWidth": 10, "strokeDash": [10, 3], "strokeCap": "butt"},
          "encoding": {"x": {"datum": 2.1395, "type": "quantitative"}, "x2": {"datum": 2.779},
            "y": {"datum": 0.8104, "type": "quantitative"}}
        },
        {
          "data": {"values": [{}]},
          "mark": {"type": "text", "text": ["Com suplemento", "Sem suplemento"], "align": "right", "baseline": "top", "lineHeight": 19},
          "encoding": {"x": {"datum": 4.508, "type": "quantitative"}, "y": {"datum": 0.8448, "type": "quantitative"}}
        },
        {
          "data": {"values": [{}]},
          "mark": {"type": "text", "text": "Desvio", "align": "right", "baseline": "top"},
          "encoding": {"x": {"datum": 6.2575, "type": "quantitative"}, "y": {"datum": 0.9, "type": "quantitative"}}
        },
        {
          "data": {"values": [{}]},
          "mark": {"type": "text", "text": ["Média", "1,132", "0,5641"], "align": "right", "baseline": "top", "lineHeight": 19},
          "encoding": {"x": {"datum": 5.4635, "type": "quantitative"}, "y": {"datum": 0.8767, "type": "quantitative"}}
        },
        {
          "data": {"values": [{}]},
          "mark": {"type": "text", "text": ["Padrão", "0,9716", "0,9046"], "align": "right", "baseline": "top", "lineHeight": 19},
          "encoding": {"x": {"datum": 6.2575, "type": "quantitative"}, "y": {"datum": 0.8767, "type": "quantitative"}}
        },
        {
          "data": {"values": [{}]},
          "mark": {"type": "text", "text": ["N", "129", "47"], "align": "right", "baseline": "top", "lineHeight": 19},
          "encoding": {"x": {"datum": 6.749, "type": "quantitative"}, "y": {"datum": 0.8767, "type": "quantitative"}}
        },
        {
          "data": {"values": [{}]},
          "mark": {"type": "text", "text": ["Média Geral = 0,980", "EPR = 0,954", "P = 0,001", "N  = 176"], "align": "right", "baseline": "top", "lineHeight": 18.8},
          "encoding": {"x": {"datum": 5.5598, "type": "quantitative"}, "y": {"datum": 0.7492, "type": "quantitative"}}
        },
        {
          "data": {"values": [{}]},
          "mark": {"type": "text", "text": "Ganho por Área Diário no Período das Secas (N = 176)", "font": "DejaVu Sans", "fontWeight": "bold", "fontSize": 19, "align": "center", "baseline": "middle"},
          "encoding": {"x": {"datum": 2.6365, "type": "quantitative"}, "y": {"datum": 1.0319, "type": "quantitative"}}
        },
        {
          "data": {"values": [{}]},
          "mark": {"type": "text", "text": "(sub-base base obtida a partir de base reduzida)", "fontSize": 19, "align": "center", "baseline": "middle"},
          "encoding": {"x": {"datum": 2.6365, "type": "quantitative"}, "y": {"datum": 0.9634, "type": "quantitative"}}
        }
      ]
    }
  ],
  "resolve": {
    "scale": {"x": "independent", "y": "independent"},
    "axis": {"x": "independent", "y": "independent"}
  }
}
